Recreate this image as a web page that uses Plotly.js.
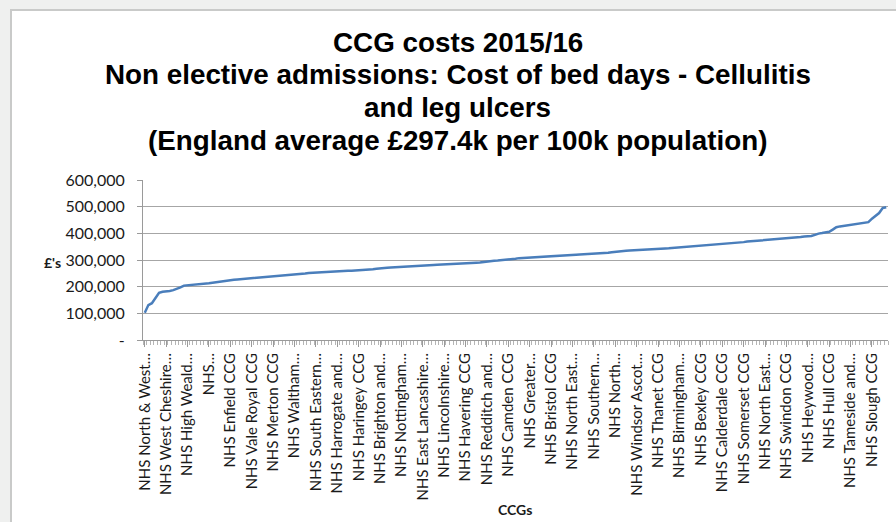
<!DOCTYPE html>
<html>
<head>
<meta charset="utf-8">
<script src="https://cdn.plot.ly/plotly-3.0.1.min.js"></script>
<style>
  html, body { margin: 0; padding: 0; background: #eff0ef; overflow: hidden; }
  #chart {
    position: absolute; left: 10px; top: 9px;
    width: 884px; height: 511px;
    border-left: 2px solid #c9cac9; border-top: 2px solid #c9cac9;
    background: #ffffff;
  }
</style>
</head>
<body>
<div id="chart"></div>
<script>
// Cost of bed days per 100k population, CCGs ranked from lowest to highest (£)
const costs = [
  102000, 131000, 138000, 160000, 177000, 181000, 182000, 184000, 187000, 191000,
  197000, 204000, 205000, 206000, 207000, 208000, 209000, 211000, 213000, 215000,
  217000, 219000, 222000, 224000, 225000, 226000, 227000, 228000, 230000, 231000,
  232000, 233000, 234000, 235000, 236000, 237000, 238000, 239000, 240000, 241000,
  242000, 243000, 245000, 246000, 247000, 249000, 251000, 252000, 253000, 254000,
  255000, 256000, 257000, 257500, 258000, 258500, 259000, 259500, 260000, 260500,
  261000, 261500, 262000, 263000, 265000, 267000, 269000, 270000, 271000, 272000,
  273000, 274000, 275000, 275500, 276000, 277000, 278000, 279000, 279500, 280000,
  281000, 281500, 282000, 282500, 283000, 283500, 284000, 285000, 285500, 286000,
  287000, 288000, 289000, 290000, 291000, 293000, 295000, 296000, 297000, 298000,
  299000, 300000, 301000, 303000, 305000, 307000, 308000, 309000, 309500, 310000,
  310500, 311000, 312000, 313000, 314000, 315000, 316000, 317000, 318000, 318500,
  319000, 320000, 320500, 321000, 322000, 322500, 323000, 324000, 324500, 325000,
  327000, 329000, 331000, 332000, 334000, 335000, 336000, 337000, 337500, 338000,
  339000, 340000, 340500, 341000, 342000, 343000, 343500, 344000, 345000, 346000,
  348000, 350000, 351000, 352000, 353000, 354000, 354500, 355000, 356000, 357000,
  358000, 358500, 359000, 360000, 361000, 362000, 363000, 365000, 367000, 369000,
  370000, 371000, 372000, 373000, 375000, 376000, 377000, 378000, 380000, 381000,
  382000, 383000, 384000, 385000, 386000, 388000, 389000, 390000, 394000, 399000,
  401000, 403000, 406000, 414000, 423000, 426000, 428000, 430000, 432000, 434000,
  436000, 437000, 438000, 442000, 455000, 466000, 476000, 495000, 498000
];

// Every sixth CCG is labelled on the category axis
const labelStep = 6;
const ccgLabels = [
  "NHS North & West…", "NHS West Cheshire…", "NHS High Weald…", "NHS…",
  "NHS Enfield CCG", "NHS Vale Royal CCG", "NHS Merton CCG", "NHS Waltham…",
  "NHS South Eastern…", "NHS Harrogate and…", "NHS Haringey CCG", "NHS Brighton and…",
  "NHS Nottingham…", "NHS East Lancashire…", "NHS Lincolnshire…", "NHS Havering CCG",
  "NHS Redditch and…", "NHS Camden CCG", "NHS Greater…", "NHS Bristol CCG",
  "NHS North East…", "NHS Southern…", "NHS North…", "NHS Windsor Ascot…",
  "NHS Thanet CCG", "NHS Birmingham…", "NHS Bexley CCG", "NHS Calderdale CCG",
  "NHS Somerset CCG", "NHS North East…", "NHS Swindon CCG", "NHS Heywood…",
  "NHS Hull CCG", "NHS Tameside and…", "NHS Slough CCG"
];

const yTickValues = [0, 100000, 200000, 300000, 400000, 500000, 600000];
const yTickLabels = ["-", "100,000", "200,000", "300,000", "400,000", "500,000", "600,000"];

// Chart heading, one entry per line
const titleLines = [
  "CCG costs 2015/16",
  "Non elective admissions: Cost of bed days - Cellulitis",
  "and leg ulcers",
  "(England average £297.4k per 100k population)"
];

const rank = costs.map((_, i) => i);
const labelPositions = ccgLabels.map((_, k) => k * labelStep);

const bodyFamily = "Lato, 'Open Sans', sans-serif";
const tickFont = { family: bodyFamily, size: 15, color: "#1a1a1a" };
const axisGrey = "#9a9a9a";

const trace = {
  type: "scatter",
  mode: "lines",
  x: rank,
  y: costs,
  line: { color: "#4a7ebb", width: 2.5 },
  hoverinfo: "y"
};

// Heading lines are stacked tightly above the plot area
const titleTop = 1.8625, titleStep = 0.2047;
const titleAnnotations = titleLines.map((line, k) => ({
  text: line, showarrow: false,
  xref: "paper", yref: "paper", x: 0.4228, y: titleTop - k * titleStep,
  xanchor: "center", yanchor: "middle",
  font: { family: "'Liberation Sans', Arial, sans-serif", size: 27.8, color: "#000000", weight: "bold" }
}));

const layout = {
  width: 884,
  height: 511,
  margin: { l: 131, r: 8, t: 169, b: 182 },
  paper_bgcolor: "#ffffff",
  plot_bgcolor: "#ffffff",
  showlegend: false,
  xaxis: {
    range: [-0.5, costs.length - 0.5],
    tickmode: "array",
    tickvals: labelPositions,
    ticktext: ccgLabels,
    tickangle: -90,
    tickfont: tickFont,
    ticks: "outside",
    ticklen: 6,
    tickcolor: axisGrey,
    minor: { ticks: "outside", tick0: -0.5, dtick: 1, ticklen: 4, tickcolor: "#b5b5b5", showgrid: false },
    showline: true,
    linecolor: axisGrey,
    linewidth: 1,
    showgrid: false,
    zeroline: false,
    fixedrange: true
  },
  yaxis: {
    range: [0, 600000],
    tickmode: "array",
    tickvals: yTickValues,
    ticktext: yTickLabels,
    tickfont: { family: bodyFamily, size: 16, color: "#1a1a1a" },
    ticks: "outside",
    ticklen: 5,
    tickcolor: axisGrey,
    ticklabelstandoff: 9,
    showline: true,
    linecolor: axisGrey,
    linewidth: 1,
    showgrid: true,
    gridcolor: "#a6a6a6",
    gridwidth: 1,
    zeroline: false,
    fixedrange: true
  },
  annotations: titleAnnotations.concat([
    {
      text: "£'s", showarrow: false,
      xref: "paper", yref: "paper", x: -0.122, y: 0.4875,
      xanchor: "center", yanchor: "middle",
      font: { family: bodyFamily, size: 14, color: "#1a1a1a", weight: "bold" }
    },
    {
      text: "CCGs", showarrow: false,
      xref: "paper", yref: "paper", x: 0.4993, y: -1.128,
      xanchor: "center", yanchor: "bottom",
      font: { family: bodyFamily, size: 14, color: "#1a1a1a", weight: "bold" }
    }
  ])
};

Plotly.newPlot("chart", [trace], layout, { displayModeBar: false, staticPlot: true });
</script>
</body>
</html>
